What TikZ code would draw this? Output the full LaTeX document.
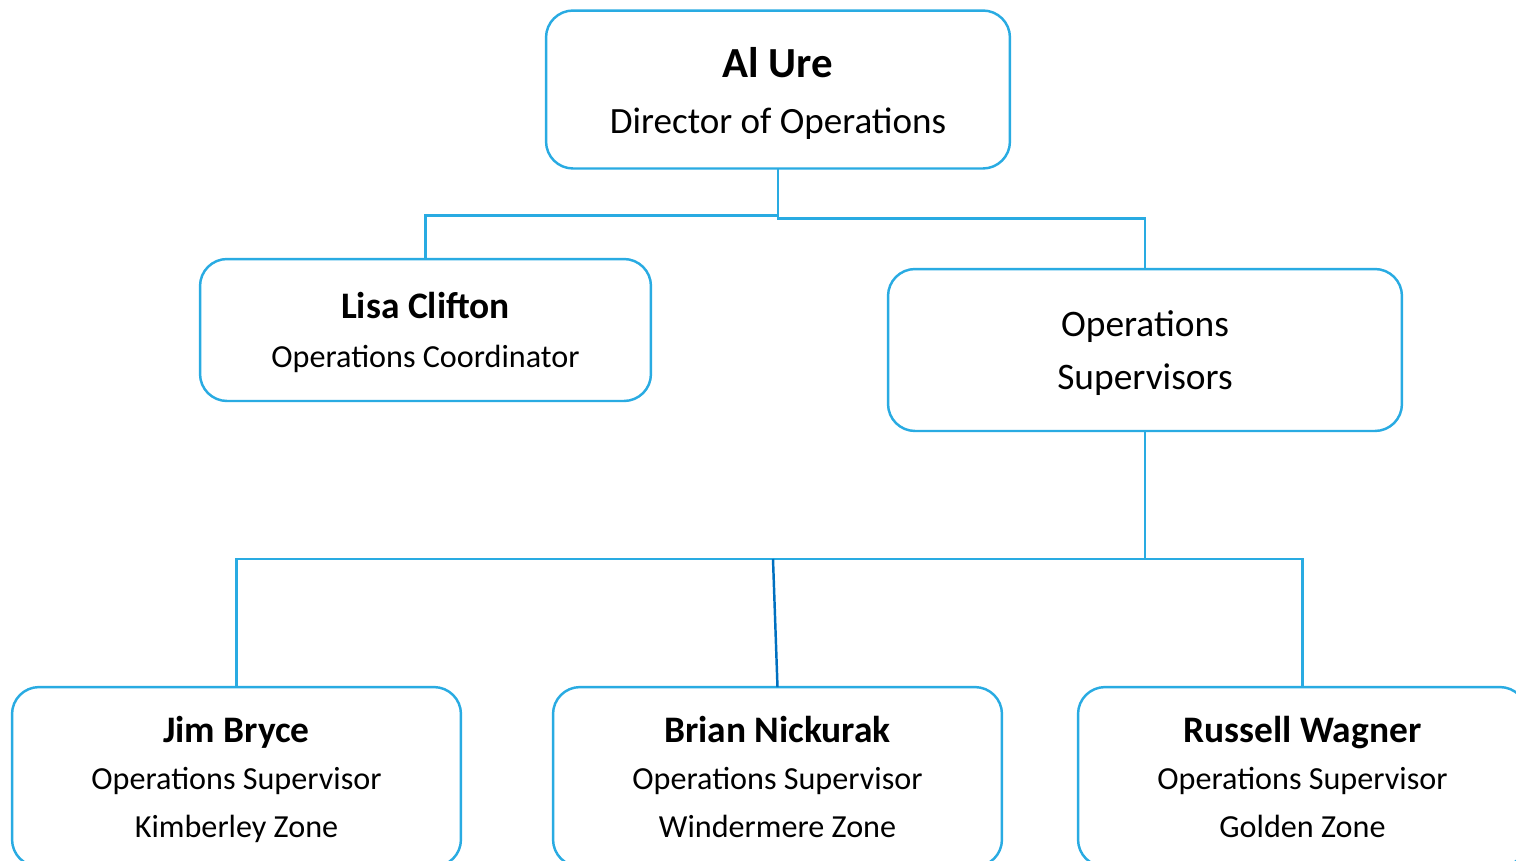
\documentclass[tikz,border=0pt]{standalone}
\usepackage{fontspec}
\setmainfont{Carlito}
\usetikzlibrary{calc,positioning}
\definecolor{boxblue}{RGB}{41,171,226}
\definecolor{midblue}{RGB}{0,112,192}
\newcommand{\linetop}[1]{\rule{0pt}{#1}}
\newcommand{\linebottom}{\rule[-7pt]{0pt}{0pt}}

\begin{document}
\begin{tikzpicture}[x=0.02cm, y=-0.02cm, outer sep=0pt,
  person/.style={draw=boxblue, line width=1.4pt, rounded corners=0.54cm,
    align=center, inner sep=0pt},
  link/.style={draw=boxblue, line width=1.4pt}]

\useasboundingbox (0,0) rectangle (1516,860);

\node[person, minimum width=9.28cm, minimum height=3.16cm,
  font=\fontsize{21.1}{31.9}\selectfont] at (778, 89.5) (DIRECTOR)
  {\linetop{25.2pt}{\fontsize{24.4}{31.9}\selectfont\bfseries Al Ure}\\
   Director of Operations\linebottom};
\node[person, minimum width=9.02cm, minimum height=2.84cm,
  font=\fontsize{18.3}{27.9}\selectfont] at (425.5, 330) (COORD)
  {\linetop{21.6pt}{\fontsize{21.3}{27.9}\selectfont\bfseries Lisa Clifton}\\
   Operations Coordinator\linebottom};
\node[person, minimum width=10.28cm, minimum height=3.24cm,
  font=\fontsize{21.3}{30.3}\selectfont] at (1145, 350) (SUPERVISORS)
  {\linetop{22.2pt}Operations\\Supervisors\linebottom};

\node[person, minimum width=8.98cm, minimum height=3.59cm,
  font=\fontsize{18.3}{26.9}\selectfont] at (236.5, 776.8) (JIM)
  {\linetop{22pt}{\fontsize{21.3}{26.9}\selectfont\bfseries Jim Bryce}\\
   Operations Supervisor\\Kimberley Zone\linebottom};
\node[person, minimum width=8.98cm, minimum height=3.59cm,
  font=\fontsize{18.3}{26.9}\selectfont] at (777.5, 776.8) (BRIAN)
  {\linetop{22pt}{\fontsize{21.3}{26.9}\selectfont\bfseries Brian Nickurak}\\
   Operations Supervisor\\Windermere Zone\linebottom};
\node[person, minimum width=8.98cm, minimum height=3.59cm,
  font=\fontsize{18.3}{26.9}\selectfont] at (1302.5, 776.8) (RUSSELL)
  {\linetop{22pt}{\fontsize{21.3}{26.9}\selectfont\bfseries Russell Wagner}\\
   Operations Supervisor\\Golden Zone\linebottom};

% top level
\draw [link] (DIRECTOR.south) -- ++(0,47) -| (COORD.north);
\draw [link] (DIRECTOR.south) -- ++(0,50) -| (SUPERVISORS.north);

% supervisors
\draw [link] (SUPERVISORS.south) -- ++(0,128) coordinate (SUPJOIN);
\draw [link] (JIM.north) |- (SUPJOIN) -| (RUSSELL.north);
\coordinate (MIDJOIN) at (773, 559);
\draw [midblue, line width=1.4pt] (MIDJOIN) -- (BRIAN.north);
\end{tikzpicture}
\end{document}
